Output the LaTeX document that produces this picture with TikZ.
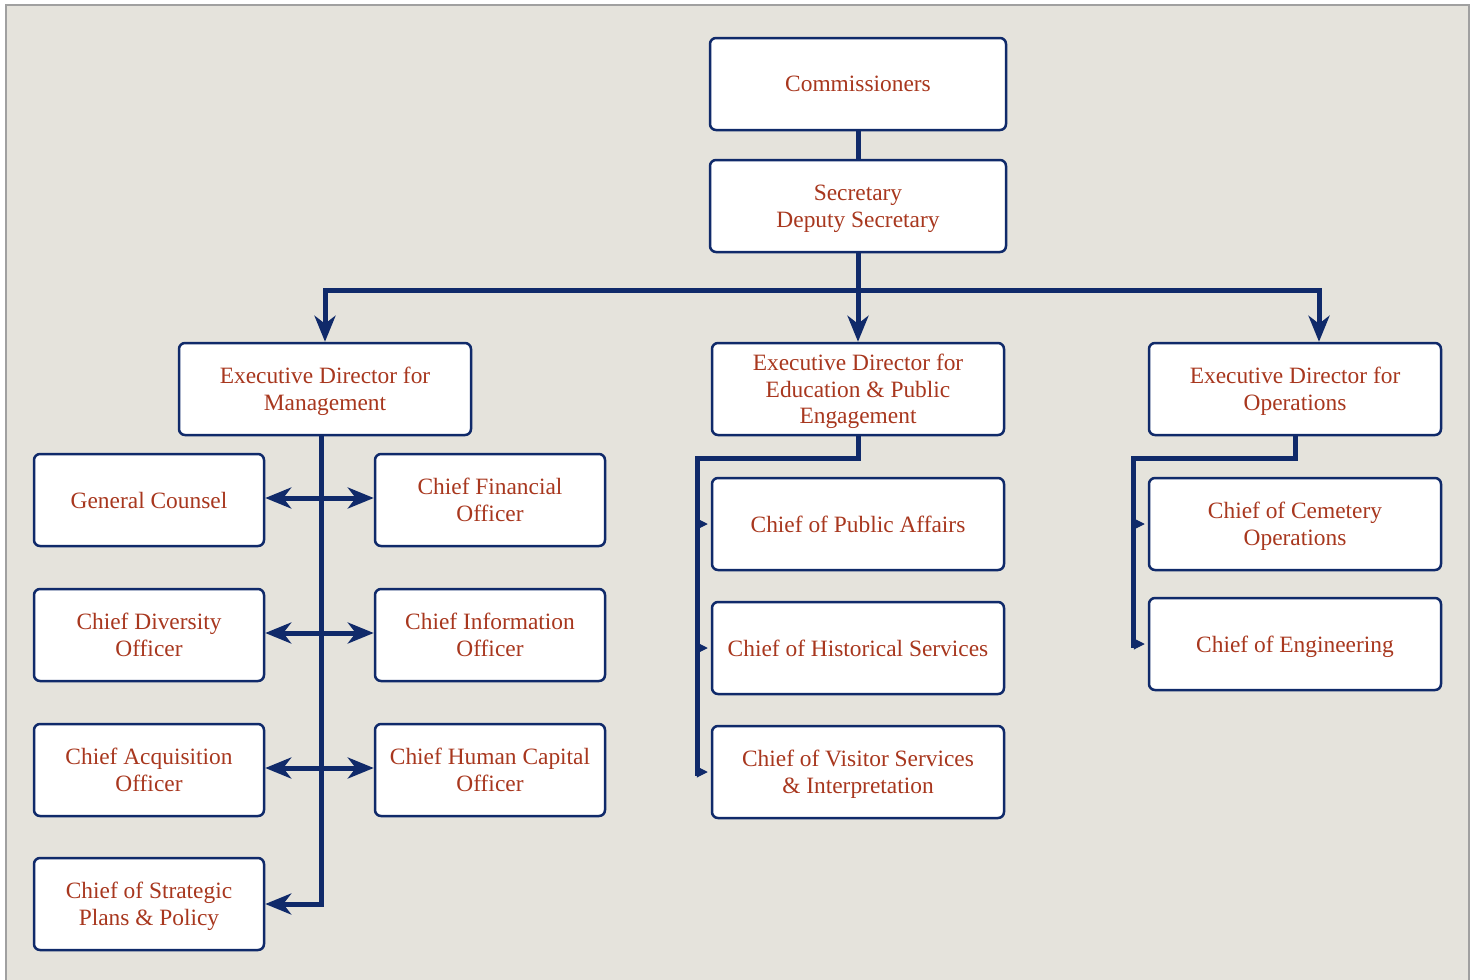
\documentclass[tikz,border=0pt]{standalone}
\usepackage{fontspec}
\setmainfont{Liberation Serif}
\usetikzlibrary{arrows.meta}
\definecolor{navy}{RGB}{16,42,106}
\definecolor{rust}{RGB}{168,55,30}
\definecolor{bgc}{RGB}{229,227,220}
\definecolor{framec}{RGB}{160,160,160}
\tikzset{
  box/.style={draw=navy, line width=2.5pt, rounded corners=6pt, fill=white,
    text=rust, align=center, inner sep=2pt, text depth=-1pt,
    font=\fontsize{23.4}{26.5}\selectfont},
  wbox/.style={box, minimum width=292pt, minimum height=92pt},
  nbox/.style={box, minimum width=230pt, minimum height=92pt},
  conn/.style={draw=navy, line width=5pt, line join=miter},
  pointer/.style={draw=navy, fill=navy, line width=1pt, shorten >=3pt,
    -{Triangle[length=11pt, width=11pt]}},
  bigtip/.tip={Stealth[length=26pt, width=21pt, inset=8pt]},
}
\begin{document}
\begin{tikzpicture}[x=1pt, y=-1pt]
\useasboundingbox (0,0) rectangle (1473,980);
\fill[bgc] (6,5) rectangle (1470,990);
\draw[framec, line width=2pt] (6,990) -- (6,5) -- (1469,5) -- (1469,990);

% top
\node[box, minimum width=296pt, minimum height=92pt] (comm) at (858,84) {Commissioners};
\node[box, minimum width=296pt, minimum height=92pt] (sec) at (858,206) {Secretary\\Deputy Secretary};

% executive directors
\node[wbox] (edm) at (325,389) {Executive Director for\\Management};
\node[wbox] (ede) at (858,389) {Executive Director for\\Education \& Public\\Engagement};
\node[wbox] (edo) at (1295,389) {Executive Director for\\Operations};

% left column
\node[nbox] (gc)  at (149,500) {General Counsel};
\node[nbox] (cfo) at (490,500) {Chief Financial\\Officer};
\node[nbox] (cdo) at (149,635) {Chief Diversity\\Officer};
\node[nbox] (cio) at (490,635) {Chief Information\\Officer};
\node[nbox] (cao) at (149,770) {Chief Acquisition\\Officer};
\node[nbox] (chc) at (490,770) {Chief Human Capital\\Officer};
\node[nbox] (csp) at (149,904) {Chief of Strategic\\Plans \& Policy};

% middle column
\node[wbox] (cpa) at (858,524) {Chief of Public Affairs};
\node[wbox] (chs) at (858,648) {Chief of Historical Services};
\node[wbox] (cvs) at (858,772) {Chief of Visitor Services\\\& Interpretation};

% right column
\node[wbox] (cco)  at (1295,524) {Chief of Cemetery\\Operations};
\node[wbox] (ceng) at (1295,644) {Chief of Engineering};

% coordinates
\coordinate (bl) at (325,290);
\coordinate (br) at (1319,290);
\coordinate (lt) at (321,436);
\coordinate (m1) at (697,458);
\coordinate (r1) at (1133,458);

% connectors top
\draw[conn] (comm.south) -- (sec.north);
\draw[conn, {bigtip}-{bigtip}] (edm.north) -- (bl) -- (br) -- (br |- edo.north);
\draw[conn, -{bigtip}] (sec.south) -- (ede.north);

% left trunk
\draw[conn, -{bigtip}] (lt) -- (lt |- csp.east) -- (csp.east);
\draw[conn, {bigtip}-{bigtip}] ([yshift=2pt]gc.east) -- ([yshift=2pt]cfo.west);
\draw[conn, {bigtip}-{bigtip}] ([yshift=2pt]cdo.east) -- ([yshift=2pt]cio.west);
\draw[conn, {bigtip}-{bigtip}] ([yshift=2pt]cao.east) -- ([yshift=2pt]chc.west);

% middle trunk
\draw[conn] (ede.south) -- (ede.south |- m1) -- (m1) -- ([yshift=-4pt]m1 |- cvs.west);
\draw[pointer] (m1 |- cpa.west) -- (cpa.west);
\draw[pointer] (m1 |- chs.west) -- (chs.west);
\draw[pointer] (m1 |- cvs.west) -- (cvs.west);

% right trunk
\draw[conn] (edo.south) -- (edo.south |- r1) -- (r1) -- ([yshift=-4pt]r1 |- ceng.west);
\draw[pointer] (r1 |- cco.west) -- (cco.west);
\draw[pointer] (r1 |- ceng.west) -- (ceng.west);
\end{tikzpicture}
\end{document}
